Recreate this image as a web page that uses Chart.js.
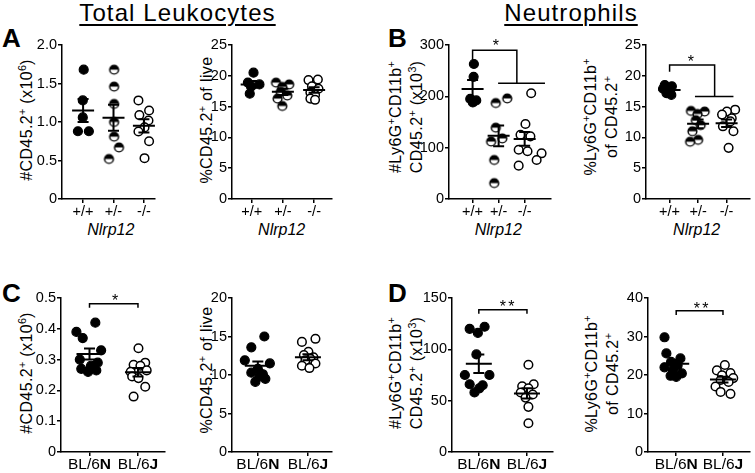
<!DOCTYPE html>
<html>
<head>
<meta charset="utf-8">
<title>Nlrp12 leukocytes and neutrophils</title>
<script src="https://cdn.jsdelivr.net/npm/chart.js@4.4.1/dist/chart.umd.min.js"></script>
<style>
  html, body { margin: 0; padding: 0; background: #fff; }
  body { position: relative; width: 755px; height: 473px; overflow: hidden;
         font-family: "Liberation Sans", Arial, Helvetica, sans-serif; color: #000; }
  canvas { position: absolute; }
  .txt { position: absolute; white-space: nowrap; line-height: 1; }
  .head { font-size: 24px; letter-spacing: 1.1px; text-decoration: underline;
          text-decoration-thickness: 1.6px; text-underline-offset: 3px; transform: translateX(-50%); }
  .letter { font-size: 26px; font-weight: bold; }
  .xt { font-size: 16px; font-style: italic; transform: translateX(-50%); }
  .yt { position: absolute; white-space: nowrap; font-size: 16px; line-height: 20.5px;
        letter-spacing: 0.4px; text-align: center; transform: translate(-50%, -50%) rotate(-90deg); }
  sup { font-size: 68%; line-height: 0; vertical-align: 0.5em; letter-spacing: 0; }
</style>
</head>
<body>

<div class="txt head" style="left:177.5px; top:0.7px;">Total Leukocytes</div>
<div class="txt head" style="left:571px; top:0.7px;">Neutrophils</div>

<div class="txt letter" style="left:2px; top:25px;">A</div>
<div class="txt letter" style="left:388px; top:25px;">B</div>
<div class="txt letter" style="left:2px; top:279.7px;">C</div>
<div class="txt letter" style="left:388px; top:280px;">D</div>

<div class="yt" style="left:26.7px; top:119.5px;">#CD45.2<sup>+</sup> (x10<sup>6</sup>)</div>
<div class="yt" style="left:206.7px; top:120px;">%CD45.2<sup>+</sup> of live</div>
<div class="yt" style="left:406.3px; top:117px;">#Ly6G<sup>+</sup>CD11b<sup>+</sup><br>CD45.2<sup>+</sup> (x10<sup>3</sup>)</div>
<div class="yt" style="left:601.1px; top:117px;">%Ly6G<sup>+</sup>CD11b<sup>+</sup><br>of CD45.2<sup>+</sup></div>
<div class="yt" style="left:26.7px; top:372.5px;">#CD45.2<sup>+</sup> (x10<sup>6</sup>)</div>
<div class="yt" style="left:206.7px; top:370px;">%CD45.2<sup>+</sup> of live</div>
<div class="yt" style="left:406.3px; top:373px;">#Ly6G<sup>+</sup>CD11b<sup>+</sup><br>CD45.2<sup>+</sup> (x10<sup>3</sup>)</div>
<div class="yt" style="left:601.6px; top:374px;">%Ly6G<sup>+</sup>CD11b<sup>+</sup><br>of CD45.2<sup>+</sup></div>

<div class="txt xt" style="left:110.8px; top:221.5px;">Nlrp12</div>
<div class="txt xt" style="left:281.7px; top:221.5px;">Nlrp12</div>
<div class="txt xt" style="left:498.3px; top:221.5px;">Nlrp12</div>
<div class="txt xt" style="left:696.7px; top:221.5px;">Nlrp12</div>

<script>
// groups
const nlrpGroups = ['+/+', '+/-', '-/-'];
const strainGroups = ['BL/6N', 'BL/6J'];

// A: total leukocyte count (x10^6)
const aTicks = [0, 0.5, 1, 1.5, 2];
const aTickLabels = ['0', '0.5', '1.0', '1.5', '2.0'];
const aValues = [
  [1.68, 1.28, 1.06, 0.88, 0.88],
  [1.68, 1.46, 1.235, 1.0, 0.81, 0.67, 0.52],
  [1.28, 1.15, 1.09, 1.02, 0.93, 0.876, 0.75, 0.53]
];
const aJitter = [
  [0.02, -0.01, -0.01, -0.17, 0.19],
  [0.02, 0.02, 0.02, 0.02, 0.02, 0.18, -0.15],
  [-0.18, 0.17, -0.15, 0.15, 0.02, -0.18, 0.17, 0.02]
];
const aMean = [1.15, 1.055, 0.95];
const aSem = [0.15, 0.17, 0.085];

// A right: % CD45.2+ of live
const a2Ticks = [0, 5, 10, 15, 20, 25];
const a2TickLabels = ['0', '5', '10', '15', '20', '25'];
const a2Values = [
  [20.5, 18.9, 18.6, 18.3, 17.1],
  [18.9, 18.6, 18.2, 17.4, 16.8, 16.3, 15.1],
  [19.4, 19.3, 18.3, 17.9, 17.3, 16.9, 16.3, 16.1]
];
const a2Jitter = [
  [0.06, -0.12, 0.25, -0.01, -0.06],
  [-0.22, 0.2, -0.02, -0.07, 0.14, -0.17, -0.02],
  [0.12, -0.18, -0.07, 0.14, -0.12, 0.03, -0.12, 0.03]
];
const a2Mean = [18.6, 17.4, 17.7];
const a2Sem = [0.55, 0.5, 0.45];

// B: neutrophil count (x10^3)
const bTicks = [0, 100, 200, 300];
const bTickLabels = ['0', '100', '200', '300'];
const bValues = [
  [263, 238, 195, 192, 188],
  [196, 187, 139, 118, 112, 76, 31],
  [206, 146, 125, 122, 96, 93, 89, 76, 65]
];
const bJitter = [
  [0.05, 0.04, -0.09, 0.14, 0.01],
  [0.33, -0.11, -0.11, 0.14, -0.29, -0.17, -0.17],
  [0.25, 0.03, -0.16, 0.22, -0.23, 0.11, 0.65, 0.46, -0.23]
];
const bMean = [214.5, 123, 117];
const bSem = [17.5, 20, 13.5];

// B right: % neutrophils of CD45.2+
const b2Ticks = [0, 5, 10, 15, 20, 25];
const b2TickLabels = ['0', '5', '10', '15', '20', '25'];
const b2Values = [
  [18.5, 18.3, 17.9, 17.6, 17.2, 16.9],
  [14.3, 14.2, 13.8, 12.8, 12.0, 11.0, 9.6, 9.3],
  [14.5, 14.2, 13.7, 13.1, 12.6, 11.8, 11.0, 8.3]
];
const b2Jitter = [
  [-0.17, 0.08, -0.23, 0, -0.11, 0.06],
  [-0.25, 0.23, -0.02, -0.08, 0.09, -0.2, 0, -0.28],
  [0.3, 0.01, -0.16, 0.18, 0.13, -0.13, 0.24, 0.07]
];
const b2Mean = [17.7, 12.2, 12.3];
const b2Sem = [0.25, 0.7, 0.6];

// C: total leukocyte count, BL/6N vs BL/6J
const cTicks = [0, 0.1, 0.2, 0.3, 0.4, 0.5];
const cTickLabels = ['0', '0.1', '0.2', '0.3', '0.4', '0.5'];
const cValues = [
  [0.42, 0.39, 0.37, 0.33, 0.30, 0.29, 0.28, 0.27, 0.265, 0.26],
  [0.337, 0.29, 0.283, 0.28, 0.265, 0.26, 0.245, 0.24, 0.212, 0.18]
];
const cJitter = [
  [0.12, -0.27, -0.14, 0.24, -0.2, 0.17, 0.03, -0.17, 0.14, -0.03],
  [0.01, 0.15, -0.09, 0.05, 0.18, -0.15, -0.12, 0.01, 0.15, -0.09]
];
const cMean = [0.318, 0.259];
const cSem = [0.018, 0.014];

// C right
const c2Ticks = [0, 5, 10, 15, 20];
const c2TickLabels = ['0', '5', '10', '15', '20'];
const c2Values = [
  [15.0, 13.6, 11.9, 11.5, 10.8, 10.3, 10.1, 9.8, 9.5, 9.1],
  [14.7, 14.3, 13.0, 12.6, 12.3, 12.1, 11.9, 11.5, 11.2, 10.9]
];
const c2Jitter = [
  [0.13, -0.13, -0.26, 0.24, 0, -0.13, 0.1, 0.03, 0.15, -0.05],
  [0.15, -0.12, 0.01, -0.08, 0.11, 0.05, -0.05, 0.15, -0.12, 0.03]
];
const c2Mean = [11.2, 12.3];
const c2Sem = [0.55, 0.4];

// D: neutrophil count
const dTicks = [0, 50, 100, 150];
const dTickLabels = ['0', '50', '100', '150'];
const dValues = [
  [122, 120, 116, 95, 75, 75, 66, 65, 62, 58],
  [85, 66, 64, 62, 58, 56, 53, 44, 28]
];
const dJitter = [
  [0.12, -0.19, -0.02, -0.05, -0.29, 0.22, -0.19, 0.08, 0.01, -0.09],
  [0.03, 0.14, -0.1, 0.03, -0.13, 0.12, -0.03, 0.03, 0.03]
];
const dMean = [86, 57];
const dSem = [9, 5];

// D right
const d2Ticks = [0, 10, 20, 30, 40];
const d2TickLabels = ['0', '10', '20', '30', '40'];
const d2Values = [
  [29.8, 25.6, 24.3, 23.4, 22.5, 22.0, 21.3, 20.4, 19.8, 19.5],
  [22.6, 21.2, 20.5, 19.9, 19.2, 18.7, 18.2, 17.0, 15.6, 15.1]
];
const d2Jitter = [
  [-0.25, -0.21, 0.09, -0.11, 0.03, -0.25, -0.07, 0.12, -0.12, 0],
  [0.04, -0.13, 0.16, -0.02, 0.22, -0.05, 0.12, -0.16, -0.05, 0.16]
];
const d2Mean = [22.9, 18.8];
const d2Sem = [1.0, 0.75];

const FONT = '"Liberation Sans", Arial, Helvetica, sans-serif';

function halfDot(r) {
  const s = Math.ceil(2 * r + 4);
  const c = document.createElement('canvas');
  c.width = s; c.height = s;
  const g = c.getContext('2d');
  const m = s / 2;
  g.beginPath(); g.arc(m, m, r, 0, 2 * Math.PI); g.fillStyle = '#fff'; g.fill();
  g.beginPath(); g.arc(m, m, r, Math.PI, 2 * Math.PI); g.closePath(); g.fillStyle = '#000'; g.fill();
  g.beginPath(); g.arc(m, m, r, 0, 2 * Math.PI); g.lineWidth = 1.4; g.strokeStyle = '#000'; g.stroke();
  return c;
}
const halfImg = halfDot(4.4);

const looks = {
  filled: { pointStyle: 'circle', pointRadius: 4.5, backgroundColor: '#000', borderColor: '#000', borderWidth: 1.2 },
  open: { pointStyle: 'circle', pointRadius: 4.3, backgroundColor: '#fff', borderColor: '#000', borderWidth: 1.5 },
  half: { pointStyle: halfImg, pointRadius: 5, backgroundColor: '#000', borderColor: '#000', borderWidth: 0 }
};

function statsPlugin(p) {
  return {
    id: 'stats',
    afterDatasetsDraw(chart) {
      const { ctx, scales: { x, y } } = chart;
      ctx.save();
      ctx.strokeStyle = '#000';
      ctx.fillStyle = '#000';
      ctx.lineWidth = 2;
      p.mean.forEach((m, i) => {
        const cx = x.getPixelForValue(i + 1);
        const ym = y.getPixelForValue(m);
        const yt = y.getPixelForValue(m + p.sem[i]);
        const yb = y.getPixelForValue(m - p.sem[i]);
        ctx.beginPath();
        ctx.moveTo(cx - p.meanHalf, ym); ctx.lineTo(cx + p.meanHalf, ym);
        ctx.moveTo(cx, yt); ctx.lineTo(cx, yb);
        ctx.moveTo(cx - p.capHalf, yt); ctx.lineTo(cx + p.capHalf, yt);
        ctx.moveTo(cx - p.capHalf, yb); ctx.lineTo(cx + p.capHalf, yb);
        ctx.stroke();
      });
      ctx.lineWidth = 1.5;
      (p.brackets || []).forEach(path => {
        ctx.beginPath();
        path.forEach(([vx, vy], k) => {
          const X = x.getPixelForValue(vx), Y = y.getPixelForValue(vy);
          if (k) ctx.lineTo(X, Y); else ctx.moveTo(X, Y);
        });
        ctx.stroke();
      });
      if (p.star) {
        ctx.font = '16px ' + FONT;
        ctx.textAlign = 'center';
        ctx.textBaseline = 'alphabetic';
        const sx = x.getPixelForValue(p.star.x), sy = y.getPixelForValue(p.star.y) + 9;
        const n = p.star.n;
        for (let k = 0; k < n; k++) ctx.fillText('*', sx + (k - (n - 1) / 2) * 8.5, sy);
      }
      if (p.strainLabels) {
        const base = chart.chartArea.bottom + 16.5;
        p.groups.forEach((g, i) => {
          const cx = x.getPixelForValue(i + 1);
          const head = g.slice(0, -1), tail = g.slice(-1);
          ctx.font = '15.5px ' + FONT;
          const w1 = ctx.measureText(head).width;
          ctx.font = 'bold 15.5px ' + FONT;
          const w2 = ctx.measureText(tail).width;
          const sx = cx - (w1 + w2) / 2;
          ctx.textAlign = 'left';
          ctx.textBaseline = 'alphabetic';
          ctx.font = '15.5px ' + FONT;
          ctx.fillText(head, sx, base);
          ctx.font = 'bold 15.5px ' + FONT;
          ctx.fillText(tail, sx + w1, base);
        });
      }
      ctx.restore();
    }
  };
}

function buildPanel(p) {
  const YW = 40, PT = 12, PR = 4, XH = 36;
  const left = Math.round(p.L), right = Math.round(p.R);
  const top = Math.round(p.T), bottom = Math.round(p.B);
  const w = YW + (right - left) + PR, h = PT + (bottom - top) + XH;
  const cv = document.createElement('canvas');
  cv.width = w; cv.height = h;
  cv.style.left = (left - YW) + 'px';
  cv.style.top = (top - PT) + 'px';
  cv.style.width = w + 'px';
  cv.style.height = h + 'px';
  document.body.appendChild(cv);

  const n = p.groups.length;
  const sp = (p.cN - p.c1) / (n - 1);
  const xMin = 1 - (p.c1 - left) / sp;
  const xMax = n + (right - p.cN) / sp;

  const datasets = p.values.map((vals, g) => Object.assign({
    data: vals.map((v, k) => ({ x: g + 1 + p.jitter[g][k], y: v }))
  }, looks[p.looks[g]]));

  const axisCommon = {
    border: { display: true, color: '#000', width: 1.5 },
    grid: { display: true, drawOnChartArea: false, drawTicks: true, tickLength: 4, color: '#000', lineWidth: 1.5 }
  };

  new Chart(cv, {
    type: 'scatter',
    data: { datasets },
    options: {
      responsive: false,
      animation: false,
      events: [],
      layout: { padding: { top: PT, right: PR, left: 0, bottom: 0 } },
      plugins: { legend: { display: false }, tooltip: { enabled: false } },
      scales: {
        x: Object.assign({
          type: 'linear', min: xMin, max: xMax,
          afterBuildTicks: s => { s.ticks = p.groups.map((g, i) => ({ value: i + 1 })); },
          afterFit: s => { s.height = XH; },
          ticks: {
            color: '#000', padding: 0, maxRotation: 0, autoSkip: false,
            font: { family: FONT, size: 14.5 },
            callback: (v, i) => p.strainLabels ? '' : p.groups[i]
          }
        }, axisCommon),
        y: Object.assign({
          type: 'linear', min: 0, max: p.ticks[p.ticks.length - 1],
          afterBuildTicks: s => { s.ticks = p.ticks.map(v => ({ value: v })); },
          afterFit: s => { s.width = YW; },
          ticks: {
            color: '#000', padding: 1, autoSkip: false,
            font: { family: FONT, size: 14.5 },
            callback: (v, i) => p.tickLabels[i]
          }
        }, axisCommon)
      }
    },
    plugins: [statsPlugin(p)]
  });
}

const topLooks = ['filled', 'half', 'open'];
const bottomLooks = ['filled', 'open'];

buildPanel({ L: 61.7, R: 157, T: 45, B: 199.3, c1: 83.5, cN: 145.5, groups: nlrpGroups, looks: topLooks,
  values: aValues, jitter: aJitter, mean: aMean, sem: aSem, ticks: aTicks, tickLabels: aTickLabels,
  meanHalf: 11, capHalf: 5.5 });

buildPanel({ L: 231.7, R: 334, T: 45, B: 199.3, c1: 252, cN: 315.6, groups: nlrpGroups, looks: topLooks,
  values: a2Values, jitter: a2Jitter, mean: a2Mean, sem: a2Sem, ticks: a2Ticks, tickLabels: a2TickLabels,
  meanHalf: 11, capHalf: 5.5 });

buildPanel({ L: 449.3, R: 553, T: 45, B: 199.3, c1: 473, cN: 526, groups: nlrpGroups, looks: topLooks,
  values: bValues, jitter: bJitter, mean: bMean, sem: bSem, ticks: bTicks, tickLabels: bTickLabels,
  meanHalf: 11, capHalf: 5.5,
  brackets: [[[1, 267], [1, 290], [2.7, 290], [2.7, 225.5]], [[1.98, 225.5], [3.78, 225.5]]],
  star: { x: 1.89, y: 306.5, n: 1 } });

buildPanel({ L: 646, R: 751.7, T: 45, B: 199.3, c1: 670, cN: 728, groups: nlrpGroups, looks: topLooks,
  values: b2Values, jitter: b2Jitter, mean: b2Mean, sem: b2Sem, ticks: b2Ticks, tickLabels: b2TickLabels,
  meanHalf: 11, capHalf: 5.5,
  brackets: [[[1, 20.67], [1, 21.76], [2.58, 21.76], [2.58, 16.62]], [[1.89, 16.62], [3.24, 16.62]]],
  star: { x: 1.75, y: 22.85, n: 1 } });

buildPanel({ L: 61, R: 166.7, T: 298.3, B: 451.7, c1: 90, cN: 139.3, groups: strainGroups, looks: bottomLooks,
  values: cValues, jitter: cJitter, mean: cMean, sem: cSem, ticks: cTicks, tickLabels: cTickLabels,
  meanHalf: 13, capHalf: 5.5, strainLabels: true,
  brackets: [[[1, 0.468], [1, 0.481], [2, 0.481], [2, 0.468]]],
  star: { x: 1.53, y: 0.504, n: 1 } });

buildPanel({ L: 231.7, R: 334, T: 298.3, B: 451.7, c1: 258.3, cN: 309.3, groups: strainGroups, looks: bottomLooks,
  values: c2Values, jitter: c2Jitter, mean: c2Mean, sem: c2Sem, ticks: c2Ticks, tickLabels: c2TickLabels,
  meanHalf: 13, capHalf: 5.5, strainLabels: true });

buildPanel({ L: 451.7, R: 555, T: 298.3, B: 451.7, c1: 479.3, cN: 528.3, groups: strainGroups, looks: bottomLooks,
  values: dValues, jitter: dJitter, mean: dMean, sem: dSem, ticks: dTicks, tickLabels: dTickLabels,
  meanHalf: 13, capHalf: 5.5, strainLabels: true,
  brackets: [[[1, 134.6], [1, 138.6], [2, 138.6], [2, 134.6]]],
  star: { x: 1.59, y: 145.4, n: 2 } });

buildPanel({ L: 648.3, R: 751.7, T: 298.3, B: 451.7, c1: 676.7, cN: 724.3, groups: strainGroups, looks: bottomLooks,
  values: d2Values, jitter: d2Jitter, mean: d2Mean, sem: d2Sem, ticks: d2Ticks, tickLabels: d2TickLabels,
  meanHalf: 13, capHalf: 5.5, strainLabels: true,
  brackets: [[[1, 35.6], [1, 36.7], [2, 36.7], [2, 35.6]]],
  star: { x: 1.53, y: 38.25, n: 2 } });
</script>
</body>
</html>
